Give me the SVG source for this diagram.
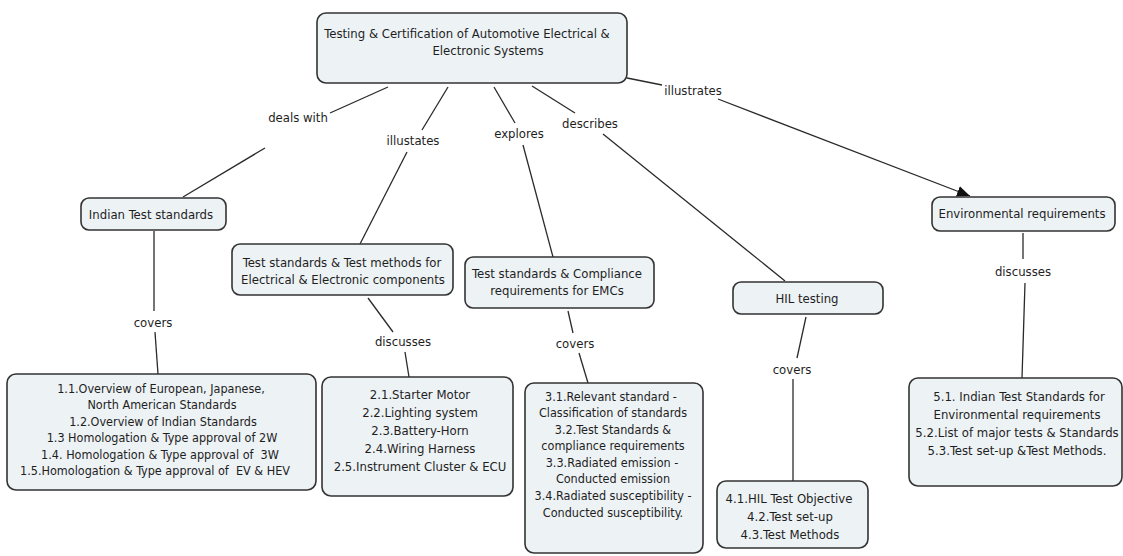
<svg xmlns="http://www.w3.org/2000/svg" width="1123" height="556" viewBox="0 0 1123 556">
<defs>
<style>
.box{fill:#edf2f5;stroke:#333;stroke-width:1.6}
text{font-family:"DejaVu Sans Condensed","DejaVu Sans",sans-serif;font-size:13px;fill:#1e1e1e;text-anchor:middle;dominant-baseline:central}
.sm{font-size:12.5px}
.ln{stroke:#2a2a2a;stroke-width:1.3;fill:none}
</style>
<marker id="arr" viewBox="0 0 13 11" refX="13" refY="5.5" markerWidth="13" markerHeight="11" markerUnits="userSpaceOnUse" orient="auto">
<path d="M0,0 L13,5.5 L0,11 z" fill="#111"/>
</marker>
</defs>
<rect width="1123" height="556" fill="#fff"/>
<g id="connectors">
<line class="ln" x1="388" y1="87" x2="330" y2="113"/>
<line class="ln" x1="265" y1="148" x2="183" y2="197"/>
<line class="ln" x1="448" y1="87" x2="422" y2="130"/>
<line class="ln" x1="407" y1="152" x2="360" y2="244"/>
<line class="ln" x1="494" y1="87" x2="515" y2="123"/>
<line class="ln" x1="523" y1="145" x2="553" y2="257"/>
<line class="ln" x1="532" y1="86" x2="575" y2="113"/>
<line class="ln" x1="603" y1="134" x2="785" y2="281"/>
<line class="ln" x1="627" y1="78" x2="662" y2="85"/>
<line class="ln" x1="718" y1="99" x2="970" y2="196" marker-end="url(#arr)"/>
<line class="ln" x1="154" y1="231" x2="154" y2="311"/>
<line class="ln" x1="155" y1="332" x2="158" y2="374"/>
<line class="ln" x1="368" y1="298" x2="393" y2="332"/>
<line class="ln" x1="405" y1="352" x2="409" y2="377"/>
<line class="ln" x1="568" y1="311" x2="573" y2="333"/>
<line class="ln" x1="579" y1="353" x2="588" y2="383"/>
<line class="ln" x1="806" y1="317" x2="797" y2="358"/>
<line class="ln" x1="793" y1="379" x2="793" y2="481"/>
<line class="ln" x1="1023" y1="233" x2="1023" y2="259"/>
<line class="ln" x1="1025" y1="283" x2="1022" y2="378"/>
<text x="298" y="117">deals with</text>
<text x="413" y="140">illustates</text>
<text x="519" y="133">explores</text>
<text x="590" y="123">describes</text>
<text x="693" y="90">illustrates</text>
<text x="153" y="322">covers</text>
<text x="403" y="341">discusses</text>
<text x="575" y="343">covers</text>
<text x="792" y="369">covers</text>
<text x="1023" y="271">discusses</text>
</g>
<g id="root">
<rect class="box" x="317" y="13" width="310" height="70" rx="9"/>
<text x="467" y="33">Testing &amp; Certification of Automotive Electrical &amp;</text>
<text x="488" y="50">Electronic Systems</text>
</g>
<g id="indian">
<rect class="box" x="81" y="198" width="145" height="32" rx="8"/>
<text x="151" y="214">Indian Test standards</text>
</g>
<g id="components">
<rect class="box" x="232" y="244" width="221" height="51" rx="8"/>
<text x="342" y="262">Test standards &amp; Test methods for</text>
<text x="343" y="279">Electrical &amp; Electronic components</text>
</g>
<g id="emc">
<rect class="box" x="465" y="257" width="189" height="51" rx="8"/>
<text x="557" y="273">Test standards &amp; Compliance</text>
<text x="557" y="290">requirements for EMCs</text>
</g>
<g id="hil">
<rect class="box" x="733" y="282" width="150" height="32" rx="8"/>
<text x="807" y="298">HIL testing</text>
</g>
<g id="env">
<rect class="box" x="932" y="197" width="183" height="34" rx="8"/>
<text x="1022" y="213">Environmental requirements</text>
</g>
<g id="box1">
<rect class="box" x="7" y="374" width="309" height="116" rx="9"/>
<text class="sm" x="161" y="388">1.1.Overview of European, Japanese,</text>
<text class="sm" x="162" y="404">North American Standards</text>
<text class="sm" x="163" y="421">1.2.Overview of Indian Standards</text>
<text class="sm" x="162" y="437">1.3 Homologation &amp; Type approval of 2W</text>
<text class="sm" x="160" y="454" xml:space="preserve">1.4. Homologation &amp; Type approval of  3W</text>
<text class="sm" x="155" y="470" xml:space="preserve">1.5.Homologation &amp; Type approval of  EV &amp; HEV</text>
</g>
<g id="box2">
<rect class="box" x="322" y="377" width="191" height="119" rx="9"/>
<text x="420" y="394">2.1.Starter Motor</text>
<text x="420" y="412">2.2.Lighting system</text>
<text x="420" y="430">2.3.Battery-Horn</text>
<text x="420" y="448">2.4.Wiring Harness</text>
<text x="420" y="466">2.5.Instrument Cluster &amp; ECU</text>
</g>
<g id="box3">
<rect class="box" x="525" y="383" width="178" height="170" rx="9"/>
<text class="sm" x="611" y="396">3.1.Relevant standard -</text>
<text class="sm" x="613" y="412">Classification of standards</text>
<text class="sm" x="613" y="429">3.2.Test Standards &amp;</text>
<text class="sm" x="613" y="445">compliance requirements</text>
<text class="sm" x="612" y="462">3.3.Radiated emission -</text>
<text class="sm" x="613" y="478">Conducted emission</text>
<text class="sm" x="613" y="495">3.4.Radiated susceptibility -</text>
<text class="sm" x="613" y="512">Conducted susceptibility.</text>
</g>
<g id="box4">
<rect class="box" x="717" y="481" width="151" height="67" rx="9"/>
<text x="789" y="498">4.1.HIL Test Objective</text>
<text x="790" y="516">4.2.Test set-up</text>
<text x="790" y="534">4.3.Test Methods</text>
</g>
<g id="box5">
<rect class="box" x="909" y="378" width="213" height="108" rx="9"/>
<text x="1019" y="396">5.1. Indian Test Standards for</text>
<text x="1017" y="414">Environmental requirements</text>
<text x="1017" y="432">5.2.List of major tests &amp; Standards</text>
<text x="1017" y="450">5.3.Test set-up &amp;Test Methods.</text>
</g>
</svg>
